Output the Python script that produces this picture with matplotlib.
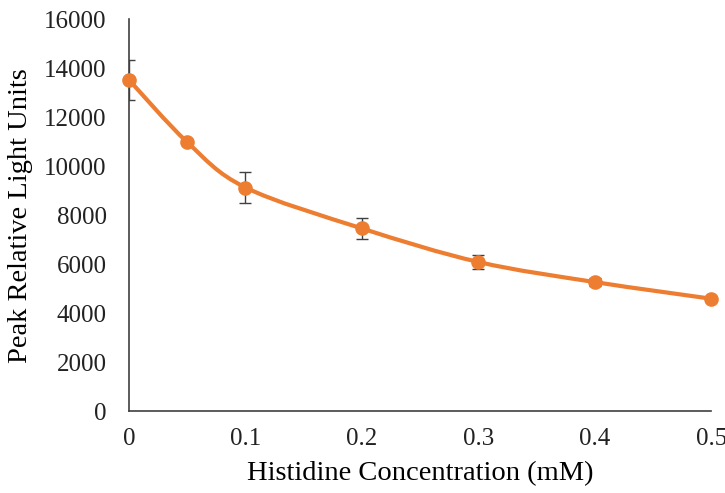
import numpy as np
import matplotlib
matplotlib.use("Agg")
from matplotlib import pyplot as plt
from matplotlib.path import Path
from matplotlib.patches import PathPatch

# Data
conc = [0, 0.05, 0.1, 0.2, 0.3, 0.4, 0.5]
rlu = [13520, 10980, 9130, 7460, 6090, 5270, 4590]
err = [800, 0, 640, 440, 290, 150, 0]

orange = "#ED7D31"
plt.rcParams["font.family"] = ["Liberation Serif", "DejaVu Serif"]

fig = plt.figure(figsize=(7.25, 4.93), dpi=100)
ax = fig.add_axes([0.178, 0.166, 0.803, 0.795])

# Excel-like smoothed line (Catmull-Rom as cubic Bezier)
x = np.array(conc, dtype=float)
y = np.array(rlu, dtype=float)
verts = [(x[0], y[0])]
codes = [Path.MOVETO]
n = len(x)
for i in range(n - 1):
    p0 = np.array([x[max(i - 1, 0)], y[max(i - 1, 0)]])
    p1 = np.array([x[i], y[i]])
    p2 = np.array([x[i + 1], y[i + 1]])
    p3 = np.array([x[min(i + 2, n - 1)], y[min(i + 2, n - 1)]])
    c1 = p1 + (p2 - p0) / 6
    c2 = p2 - (p3 - p1) / 6
    verts += [tuple(c1), tuple(c2), tuple(p2)]
    codes += [Path.CURVE4] * 3
ax.add_patch(PathPatch(Path(verts, codes), facecolor="none", edgecolor=orange,
                       lw=3, zorder=2, capstyle="round"))

ax.errorbar(conc, rlu, yerr=err, fmt="none", ecolor="#404040", elinewidth=1,
            capsize=4.5, capthick=1, zorder=3)
ax.plot(conc, rlu, "o", color=orange, ms=9.5, zorder=4, clip_on=False)

ax.set_xlim(0, 0.5)
ax.set_ylim(0, 16000)
ax.set_xticks([0, 0.1, 0.2, 0.3, 0.4, 0.5])
ax.set_xticklabels(["0", "0.1", "0.2", "0.3", "0.4", "0.5"])
ax.set_yticks(np.arange(0, 16001, 2000))
ax.tick_params(length=0, labelsize=18, colors="#222222")
ax.tick_params(axis="x", pad=12)
ax.tick_params(axis="y", pad=16)
for s in ["top", "right"]:
    ax.spines[s].set_visible(False)
for s in ["left", "bottom"]:
    ax.spines[s].set_color("#404040")
    ax.spines[s].set_linewidth(1.2)

ax.set_xlabel("Histidine Concentration (mM)", fontsize=20.5, labelpad=8)
ax.set_ylabel("Peak Relative Light Units", fontsize=20.5, labelpad=8)

fig.savefig("out.png", dpi=100)
